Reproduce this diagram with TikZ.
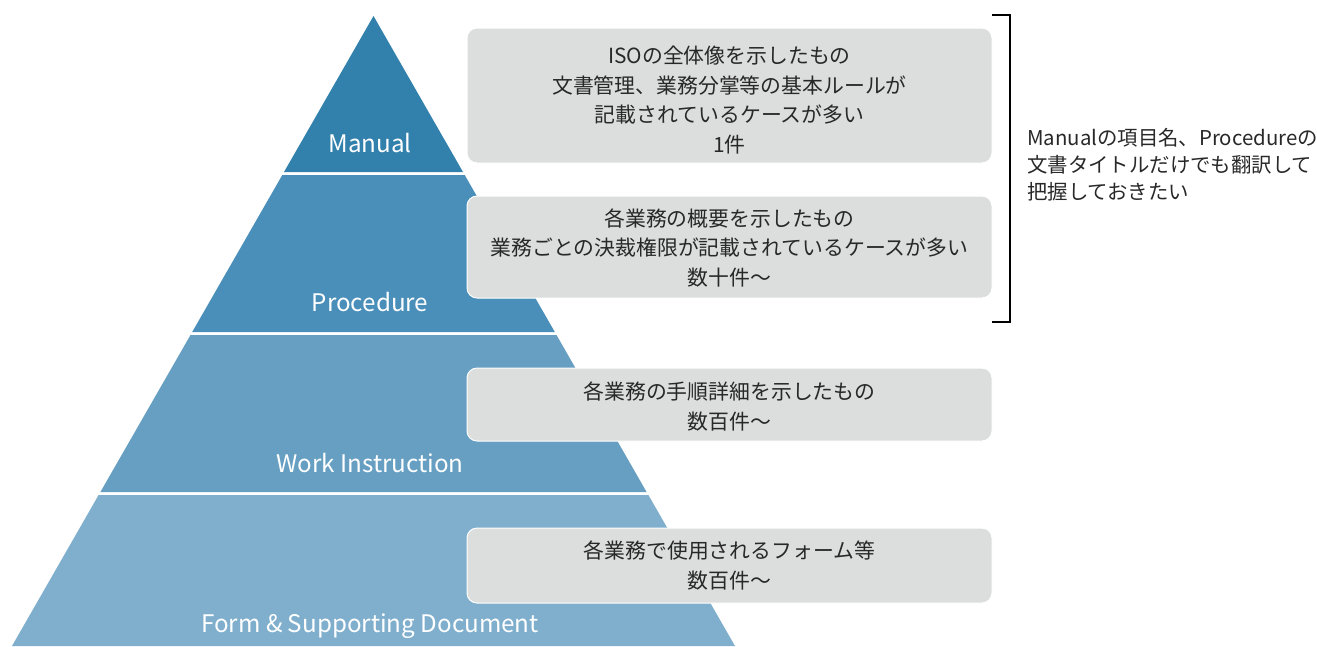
\documentclass[tikz,border=0pt]{standalone}
\usepackage{fontspec}
\setmainfont{Noto Sans CJK JP}
\definecolor{tierA}{RGB}{50,128,172}
\definecolor{tierB}{RGB}{74,143,186}
\definecolor{tierC}{RGB}{102,159,194}
\definecolor{tierD}{RGB}{128,175,205}
\definecolor{boxgray}{RGB}{220,221,221}
\definecolor{inktext}{RGB}{40,40,40}
\tikzset{
  tierlabel/.style={text=white, anchor=base, inner sep=0pt,
    font=\fontsize{24.2}{29}\selectfont},
  notebox/.style={fill=boxgray, draw=white, line width=1pt,
    rounded corners=10pt, minimum width=525pt, inner sep=0pt},
  notetext/.style={text=inktext, align=center, inner sep=0pt,
    font=\fontsize{20.85}{29.5}\selectfont},
  sidetext/.style={text=inktext, align=left, inner sep=0pt, anchor=west,
    font=\fontsize{20.4}{27}\selectfont},
  bracketline/.style={line width=2.3pt, black}
}
\begin{document}
\begin{tikzpicture}[x=1pt,y=-1pt]
\useasboundingbox (0,0) rectangle (1317,646);

% pyramid tiers (white gaps between them)
\fill[tierA] (373.5,16) -- (463,172) -- (284,172) -- cycle;
\fill[tierB] (282.3,175) -- (464.7,175) -- (554.8,332) -- (192.2,332) -- cycle;
\fill[tierC] (190.5,335) -- (556.5,335) -- (646.6,492) -- (100.4,492) -- cycle;
\fill[tierD] (98.6,495) -- (648.4,495) -- (735,646) -- (12,646) -- cycle;

\node[tierlabel] (lmanual) at (370,152) {Manual};
\node[tierlabel] (lproc)   at (370,311) {Procedure};
\node[tierlabel] (lwork)   at (370,472) {Work Instruction};
\node[tierlabel] (lform)   at (370,632) {Form \& Supporting Document};

% description boxes
\node[notebox, minimum height=135pt] (bmanual) at (729.5,95.5) {};
\node[notebox, minimum height=102pt] (bproc)   at (729.5,247) {};
\node[notebox, minimum height=73pt]  (bwork)   at (729.5,404.5) {};
\node[notebox, minimum height=75pt]  (bform)   at (729.5,565.5) {};

\node[notetext] (tmanual) at (729.5,100) {ISOの全体像を示したもの\\文書管理、業務分掌等の基本ルールが\\記載されているケースが多い\\1件};
\node[notetext] (tproc) at (729.5,248) {各業務の概要を示したもの\\業務ごとの決裁権限が記載されているケースが多い\\数十件〜};
\node[notetext] (twork) at (729.5,406.5) {各業務の手順詳細を示したもの\\数百件〜};
\node[notetext] (tform) at (729.5,565.5) {各業務で使用されるフォーム等\\数百件〜};

% bracket grouping the two upper tiers
\coordinate (bt) at (992,15);
\coordinate (bb) at (992,322);
\draw[bracketline] (bt) -- ++(18,0) |- (bb);

\node[sidetext] (side) at (1027,165) {Manualの項目名、Procedureの\\文書タイトルだけでも翻訳して\\把握しておきたい};
\end{tikzpicture}
\end{document}
